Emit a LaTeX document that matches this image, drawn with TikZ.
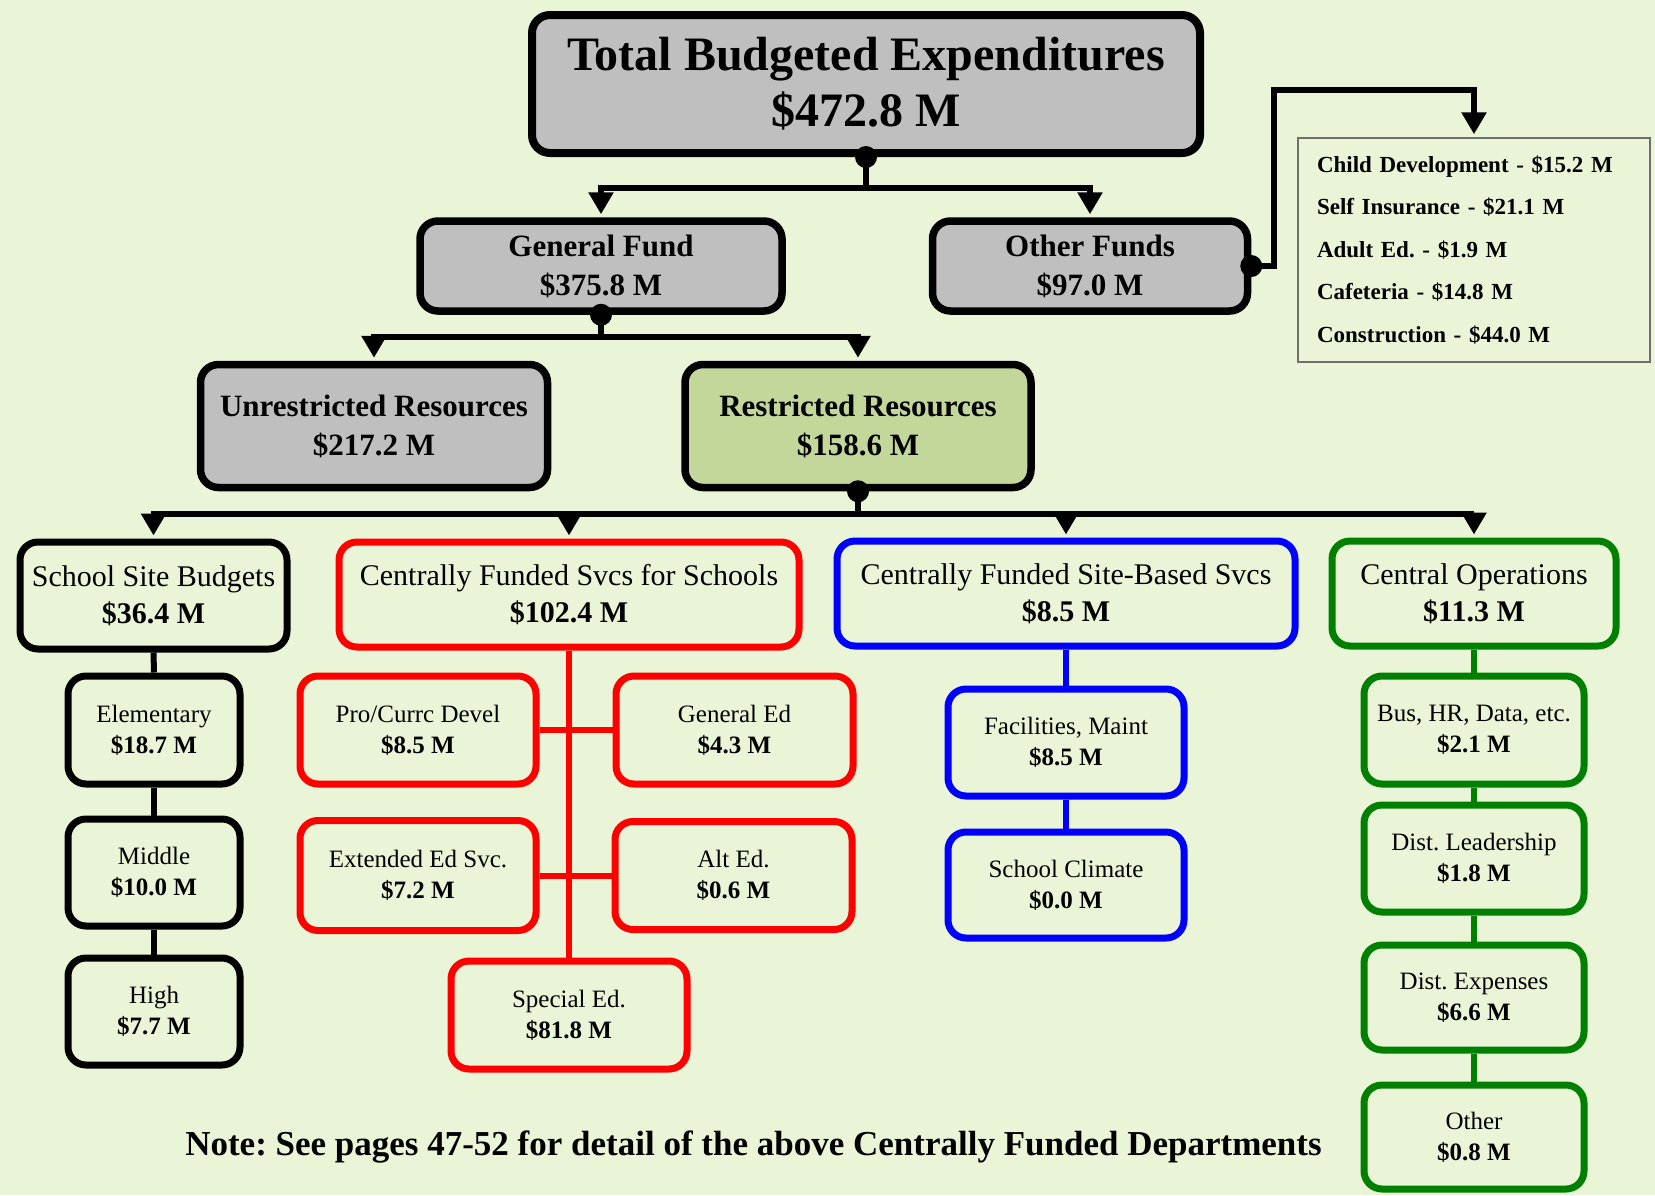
\documentclass[tikz,border=0pt]{standalone}
\usepackage{fontspec}
\setmainfont{Liberation Serif}
\usetikzlibrary{arrows.meta}
\definecolor{bgc}{RGB}{234,245,215}
\definecolor{boxgray}{RGB}{191,191,191}
\definecolor{boxgreen}{RGB}{196,215,155}
\definecolor{cred}{RGB}{255,0,0}
\definecolor{cblue}{RGB}{0,0,255}
\definecolor{cgreen}{RGB}{0,128,0}
\definecolor{listgray}{RGB}{110,110,110}
\frenchspacing
\begin{document}
\begin{tikzpicture}[x=1pt,y=-1pt,
  base/.style={rectangle, rounded corners=18pt, align=center, inner sep=0pt, text=black},
  topbox/.style={base, draw=black, line width=8pt, fill=boxgray, font=\fontsize{48}{56}\selectfont\bfseries},
  midbox/.style={base, draw=black, line width=7.5pt, fill=boxgray, font=\fontsize{31}{39}\selectfont\bfseries},
  grnbox/.style={midbox, fill=boxgreen},
  lvbox/.style={base, line width=7pt, font=\fontsize{30}{37}\selectfont},
  chbox/.style={base, line width=7pt, font=\fontsize{25}{31}\selectfont},
  conn/.style={line width=6pt, draw=black},
  arr/.style={conn, -{Triangle[width=24pt,length=22pt]}, shorten >=3pt},
  rconn/.style={line width=6pt, draw=cred},
  bconn/.style={line width=6pt, draw=cblue},
  gconn/.style={line width=6pt, draw=cgreen}
]
\useasboundingbox (0,0) rectangle (1655,1195);
\fill[bgc] (0,0) rectangle (1655,1195);

% level 1-3
\node[topbox, minimum width=668pt, minimum height=138pt] (top) at (866,84) {Total Budgeted Expenditures\\\$472.8 M};
\node[midbox, minimum width=362pt, minimum height=90pt] (gf) at (601,266) {General Fund\\\$375.8 M};
\node[midbox, minimum width=315pt, minimum height=90pt] (of) at (1090,266) {Other Funds\\\$97.0 M};
\node[midbox, minimum width=347pt, minimum height=123pt] (ur) at (374,426) {Unrestricted Resources\\\$217.2 M};
\node[grnbox, minimum width=346pt, minimum height=123pt] (rr) at (858,426) {Restricted Resources\\\$158.6 M};

\node[rectangle, draw=listgray, line width=1.5pt, minimum width=352pt, minimum height=224pt,
      text width=314pt, align=left, inner xsep=19pt, inner ysep=0pt,
      font=\fontsize{23}{42.5}\selectfont\bfseries] (list) at (1474,250)
  {Child Development - \$15.2 M\\Self Insurance - \$21.1 M\\Adult Ed. - \$1.9 M\\Cafeteria - \$14.8 M\\Construction - \$44.0 M};

% level 4
\node[lvbox, draw=black, minimum width=267pt, minimum height=107pt] (ssb) at (153.5,595.5) {School Site Budgets\\\textbf{\$36.4 M}};
\node[lvbox, draw=cred, minimum width=460pt, minimum height=105pt] (cfs) at (569,594.5) {Centrally Funded Svcs for Schools\\\textbf{\$102.4 M}};
\node[lvbox, draw=cblue, minimum width=458pt, minimum height=105pt] (cfsb) at (1066,593.5) {Centrally Funded Site-Based Svcs\\\textbf{\$8.5 M}};
\node[lvbox, draw=cgreen, minimum width=284pt, minimum height=105pt] (cop) at (1474,593.5) {Central Operations\\\textbf{\$11.3 M}};

% school children
\node[chbox, draw=black, minimum width=172pt, minimum height=108pt] (elem) at (154,730) {Elementary\\\textbf{\$18.7 M}};
\node[chbox, draw=black, minimum width=172pt, minimum height=107pt] (mid) at (154,872.5) {Middle\\\textbf{\$10.0 M}};
\node[chbox, draw=black, minimum width=172pt, minimum height=107pt] (high) at (154,1011.5) {High\\\textbf{\$7.7 M}};

% red children
\node[chbox, draw=cred, minimum width=236pt, minimum height=108pt] (pro) at (418,730) {Pro/Currc Devel\\\textbf{\$8.5 M}};
\node[chbox, draw=cred, minimum width=237pt, minimum height=108pt] (gen) at (734.5,730) {General Ed\\\textbf{\$4.3 M}};
\node[chbox, draw=cred, minimum width=236pt, minimum height=110pt] (ext) at (418,875.5) {Extended Ed Svc.\\\textbf{\$7.2 M}};
\node[chbox, draw=cred, minimum width=237pt, minimum height=108pt] (alt) at (733.5,875.5) {Alt Ed.\\\textbf{\$0.6 M}};
\node[chbox, draw=cred, minimum width=236pt, minimum height=108pt] (spe) at (569,1015) {Special Ed.\\\textbf{\$81.8 M}};

% blue children
\node[chbox, draw=cblue, minimum width=236pt, minimum height=107pt] (fac) at (1066,742.5) {Facilities, Maint\\\textbf{\$8.5 M}};
\node[chbox, draw=cblue, minimum width=236pt, minimum height=106pt] (sch) at (1066,885) {School Climate\\\textbf{\$0.0 M}};

% green children
\node[chbox, draw=cgreen, minimum width=220pt, minimum height=108pt] (bus) at (1474,730) {Bus, HR, Data, etc.\\\textbf{\$2.1 M}};
\node[chbox, draw=cgreen, minimum width=220pt, minimum height=107pt] (dl) at (1474,858.5) {Dist. Leadership\\\textbf{\$1.8 M}};
\node[chbox, draw=cgreen, minimum width=220pt, minimum height=105pt] (de) at (1474,997.5) {Dist. Expenses\\\textbf{\$6.6 M}};
\node[chbox, draw=cgreen, minimum width=220pt, minimum height=104pt] (oth) at (1474,1137) {Other\\\textbf{\$0.8 M}};

% note
\node[font=\fontsize{35}{40}\selectfont\bfseries, inner sep=0pt] (note) at (753.5,1147) {Note: See pages 47-52 for detail of the above Centrally Funded Departments};

% connectors top
\draw[arr] (top.south) -- ++(0,31) -| (gf.north);
\draw[arr] (top.south) -- ++(0,31) -| (of.north);
\fill (top.south) circle (11pt);

\draw[arr] (of.east) -- ++(23,0) |- ([yshift=47pt]list.north) -- (list.north);
\fill (of.east) circle (11pt);

\draw[arr] (gf.south) -- ++(0,22) -| (ur.north);
\draw[arr] (gf.south) -- ++(0,22) -| (rr.north);
\fill (gf.south) circle (11pt);

\draw[arr] (rr.south) -- ++(0,23) -| (ssb.north);
\draw[arr] (rr.south) -- ++(0,23) -| (cfs.north);
\draw[arr] (rr.south) -- ++(0,23) -| (cfsb.north);
\draw[arr] (rr.south) -- ++(0,23) -| (cop.north);
\fill (rr.south) circle (11pt);

% school chain
\draw[conn] (ssb.south) -- (elem.north);
\draw[conn] (elem.south) -- (mid.north);
\draw[conn] (mid.south) -- (high.north);

% red tree
\draw[rconn] (cfs.south) -- (spe.north);
\draw[rconn] (pro.east) -- (gen.west);
\draw[rconn] (ext.east) -- (alt.west);

% blue chain
\draw[bconn] (cfsb.south) -- (fac.north);
\draw[bconn] (fac.south) -- (sch.north);

% green chain
\draw[gconn] (cop.south) -- (bus.north);
\draw[gconn] (bus.south) -- (dl.north);
\draw[gconn] (dl.south) -- (de.north);
\draw[gconn] (de.south) -- (oth.north);
\end{tikzpicture}
\end{document}
